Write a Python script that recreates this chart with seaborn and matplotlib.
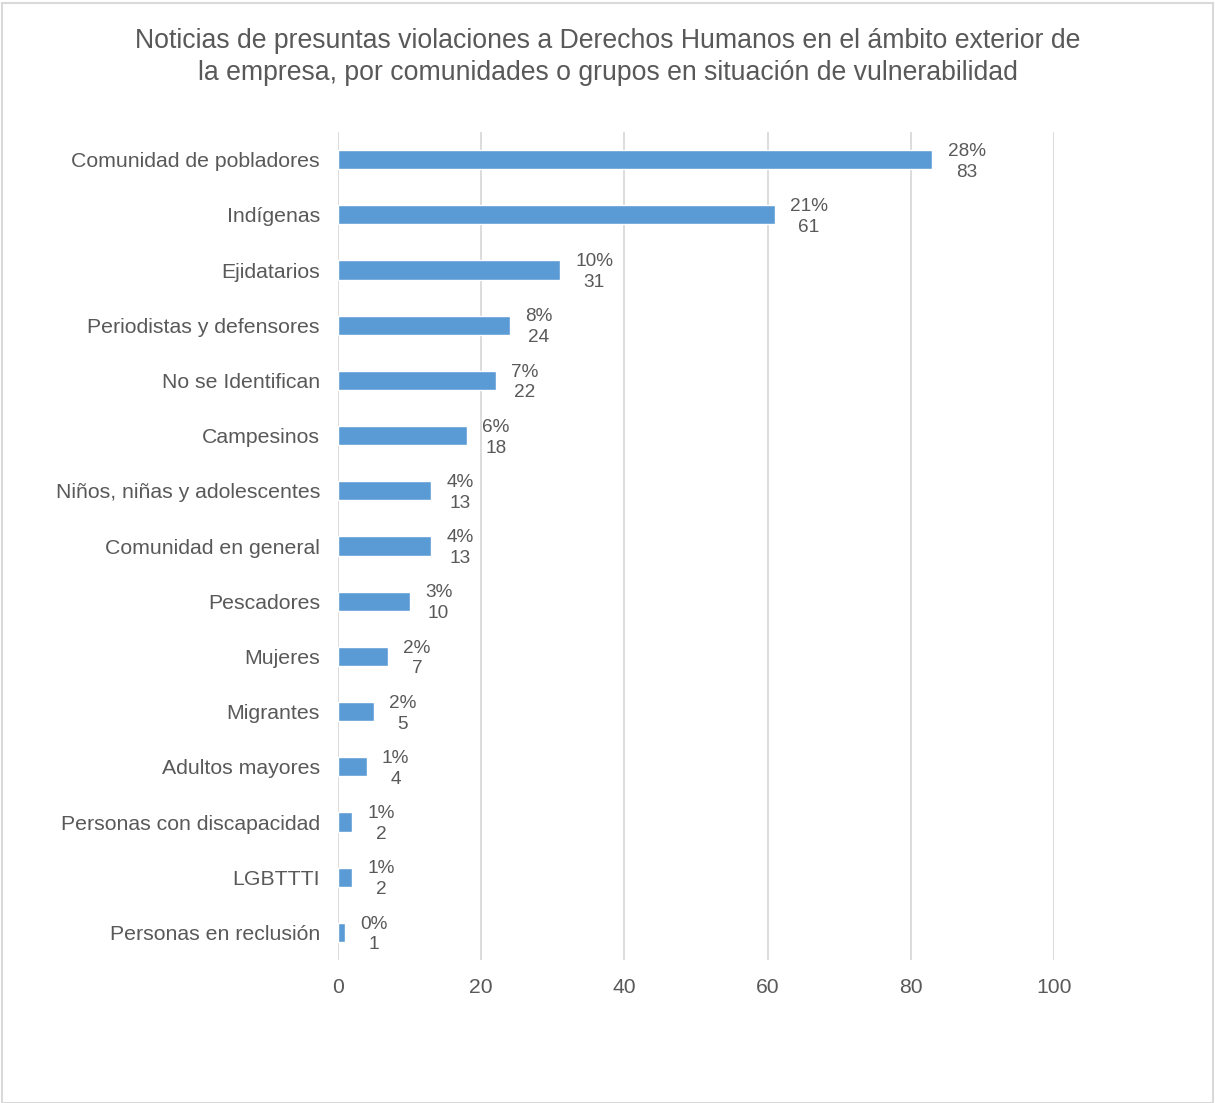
import matplotlib
matplotlib.use("Agg")
import matplotlib.pyplot as plt
import seaborn as sns
import pandas as pd
from matplotlib.patches import Rectangle

categories = [
    "Comunidad de pobladores", "Indígenas", "Ejidatarios", "Periodistas y defensores",
    "No se Identifican", "Campesinos", "Niños, niñas y adolescentes", "Comunidad en general",
    "Pescadores", "Mujeres", "Migrantes", "Adultos mayores",
    "Personas con discapacidad", "LGBTTTI", "Personas en reclusión",
]
counts = [83, 61, 31, 24, 22, 18, 13, 13, 10, 7, 5, 4, 2, 2, 1]
percents = ["28%", "21%", "10%", "8%", "7%", "6%", "4%", "4%", "3%", "2%", "2%", "1%", "1%", "1%", "0%"]
x_ticks = [0, 20, 40, 60, 80, 100]

title = ("Noticias de presuntas violaciones a Derechos Humanos en el ámbito exterior de\n"
         "la empresa, por comunidades o grupos en situación de vulnerabilidad")

sns.set_theme(style="white")
plt.rcParams["font.family"] = ["Liberation Sans", "DejaVu Sans"]

text_color = "#595959"
bar_color = "#5B9BD5"
grid_color = "#D9D9D9"

df = pd.DataFrame({"grupo": categories, "noticias": counts, "pct": percents})

fig = plt.figure(figsize=(12.15, 11.03), dpi=100)
ax = fig.add_axes([338 / 1215, 1 - 960 / 1103, (1054 - 338) / 1215, (960 - 132) / 1103])

sns.barplot(data=df, x="noticias", y="grupo", color=bar_color, width=0.35,
            saturation=1, ax=ax, zorder=3)

ax.set_xlim(0, 100)
ax.set_ylim(len(categories) - 0.5, -0.5)
ax.set_xticks(x_ticks)
ax.set_xlabel("")
ax.set_ylabel("")
ax.grid(axis="x", color=grid_color, linewidth=1.3, zorder=0)
ax.grid(axis="y", visible=False)
for s in ax.spines.values():
    s.set_visible(False)
ax.tick_params(axis="y", length=0, labelsize=15.3, colors=text_color, pad=13)
ax.tick_params(axis="x", length=0, labelsize=15.2, colors=text_color, pad=13)

# value labels: percentage over count, just right of each bar
for i, (v, p) in enumerate(zip(counts, percents)):
    ax.annotate(f"{p}\n{v}", xy=(v, i), xytext=(11, -1.5), textcoords="offset points",
                ha="left", va="center", multialignment="center",
                fontsize=13.7, color=text_color, linespacing=1.3)

fig.text(0.5, 1 - 57 / 1103, title, ha="center", va="center", fontsize=19.2,
         color=text_color, linespacing=1.25)

fig.patches.append(Rectangle((2 / 1215, 0), 1211 / 1215, 1 - 3 / 1103,
                             transform=fig.transFigure, fill=False,
                             edgecolor="#D9D9D9", linewidth=1.5))

fig.savefig("out.png", dpi=100, facecolor="white")
